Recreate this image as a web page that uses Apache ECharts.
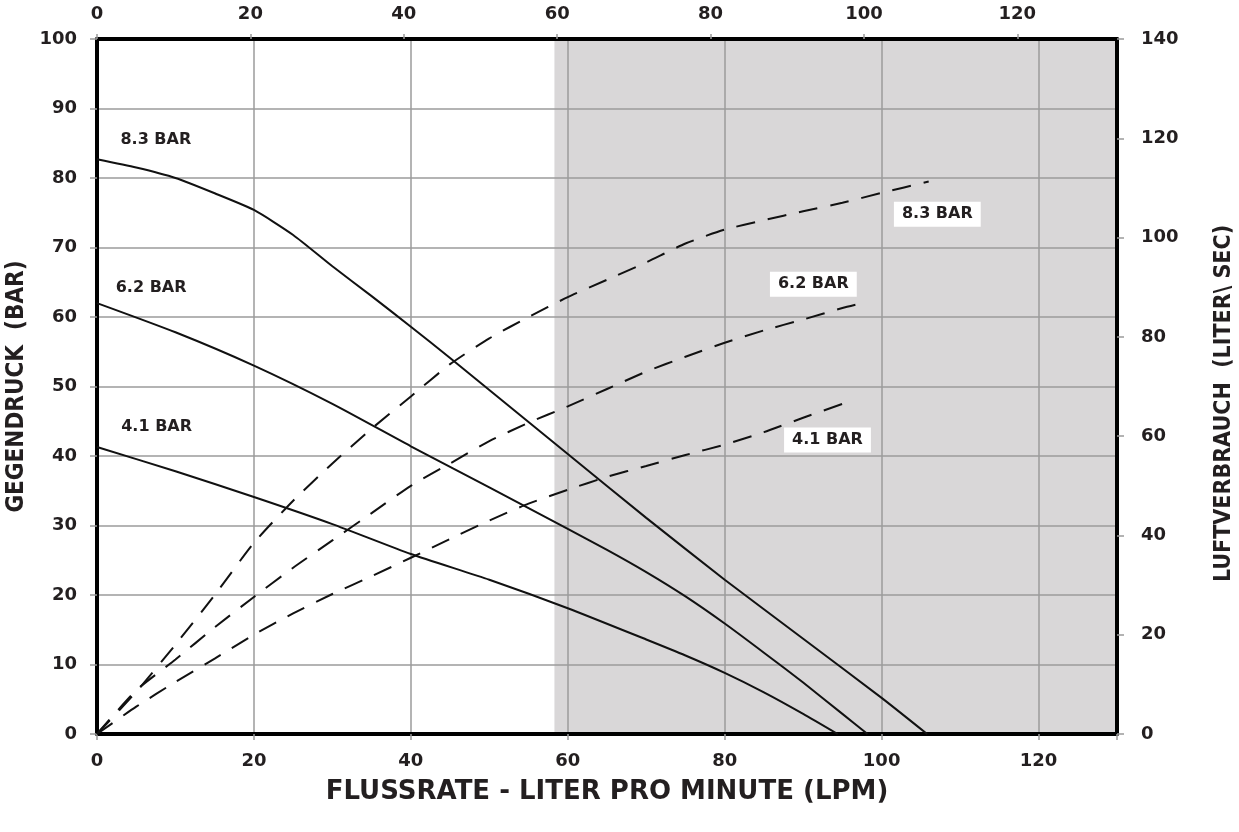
<!DOCTYPE html>
<html>
<head>
<meta charset="UTF-8">
<title>Pumpenkennlinie</title>
<style>
  html, body { margin: 0; padding: 0; background: #fff; }
  #chart { width: 1239px; height: 832px; }
</style>
<script src="https://cdn.jsdelivr.net/npm/echarts@6/dist/echarts.min.js"></script>
</head>
<body>
<div id="chart"></div>
<script>
// Gegendruck (bar) ueber Flussrate (l/min) - durchgezogene Linien
var druck83X = [0, 5, 10, 15, 20, 25, 30, 35, 40, 45, 50, 55, 60, 70, 80, 90, 100, 105.8];
var druck83Y = [82.7, 81.5, 80, 77.8, 75.4, 71.8, 67.3, 63, 58.6, 54.1, 49.5, 44.9, 40.3, 31.1, 22.2, 13.7, 5.2, 0];
var druck62X = [0, 10, 20, 30, 40, 50, 60, 65, 70, 75, 80, 85, 90, 95, 98.2];
var druck62Y = [62, 57.8, 53, 47.5, 41.4, 35.5, 29.5, 26.5, 23.3, 19.8, 15.9, 11.7, 7.4, 2.9, 0];
var druck41X = [0, 10, 20, 30, 40, 50, 60, 70, 75, 80, 85, 90, 94.4];
var druck41Y = [41.3, 37.8, 34.1, 30.2, 25.9, 22.2, 18.1, 13.6, 11.3, 8.8, 6.0, 2.9, 0];

// Luftverbrauch (rechte Achse) - gestrichelte Linien
var luft83X = [0, 5, 10, 15, 20, 25, 30, 35, 40, 45, 50, 55, 60, 65, 70, 75, 80, 85, 90, 95, 100, 106];
var luft83Y = [0, 8.5, 18, 28, 38.5, 47, 54.5, 61.5, 68, 74.5, 79.7, 84, 88, 91.5, 95, 98.8, 101.6, 103.5, 105.3, 107, 109, 111.3];
var luft62X = [0, 5, 10, 15, 20, 25, 30, 35, 40, 45, 50, 55, 60, 65, 70, 75, 80, 85, 90, 95, 98];
var luft62Y = [0, 8.8, 15, 21.5, 27.6, 33.5, 39, 44.5, 50, 54.5, 59, 62.7, 66, 69.5, 73, 76, 78.8, 81.3, 83.5, 85.8, 87];
var luft41X = [0, 5, 10, 15, 20, 25, 30, 35, 40, 45, 50, 55, 60, 65, 70, 75, 80, 85, 90, 95];
var luft41Y = [0, 5.5, 10.5, 15.2, 20, 24.3, 28.2, 31.8, 35.5, 39.3, 43, 46.4, 49.2, 51.8, 54, 56.2, 58.3, 60.8, 63.7, 66.5];

var xTicks = [0, 20, 40, 60, 80, 100, 120];
var grauBereich = [58.3, 130];

function paare(xs, ys) {
  return xs.map(function (x, i) { return [x, ys[i]]; });
}

var textFarbe = '#231f20';
var gitter = '#9b9b9b';
var tickFont = { color: textFarbe, fontFamily: 'DejaVu Sans', fontWeight: 'bold', fontSize: 18 };

function beschriftung(name, coord, box) {
  return {
    name: name,
    coord: coord,
    symbol: 'rect',
    symbolSize: 1,
    itemStyle: { color: 'rgba(0,0,0,0)' },
    label: {
      show: true,
      position: 'inside',
      formatter: name,
      color: textFarbe,
      fontFamily: 'DejaVu Sans',
      fontWeight: 'bold',
      fontSize: 16,
      backgroundColor: box ? '#fff' : 'transparent',
      padding: box ? [5, 8, 4, 8] : 0
    }
  };
}

function solid(name, data, marks) {
  return {
    name: name, type: 'line', xAxisIndex: 0, yAxisIndex: 0, z: 3,
    data: data, smooth: 0.2, symbol: 'none',
    lineStyle: { color: '#111', width: 2 },
    markPoint: { silent: true, z: 6, data: marks }
  };
}

function dashed(name, data) {
  return {
    name: name, type: 'line', xAxisIndex: 0, yAxisIndex: 1, z: 3,
    data: data, smooth: 0.2, symbol: 'none',
    lineStyle: { color: '#111', width: 2, type: [19, 13] }
  };
}

var myChart = echarts.init(document.getElementById('chart'));
var option = {
  animation: false,
  backgroundColor: '#fff',
  grid: { left: 97, right: 122, top: 39, bottom: 98, containLabel: false, outerBoundsMode: 'none' },
  xAxis: [{
    type: 'value', position: 'bottom', min: 0, max: 130, interval: 20, z: 2,
    axisLine: { show: true, onZero: false, lineStyle: { color: '#000', width: 4 } },
    axisTick: { show: true, length: 6, lineStyle: { color: gitter, width: 1.5 } },
    axisLabel: Object.assign({ margin: 18, formatter: function (v) { return xTicks.indexOf(v) >= 0 ? v : ''; } }, tickFont),
    splitLine: { show: true, lineStyle: { color: gitter, width: 1.5 } },
    name: 'FLUSSRATE - LITER PRO MINUTE (LPM)', nameLocation: 'middle', nameGap: 45,
    nameTextStyle: { color: textFarbe, fontFamily: 'DejaVu Sans', fontWeight: 'bold', fontSize: 26 }
  }, {
    type: 'value', position: 'top', min: 0, max: 133, interval: 20, z: 2,
    axisLine: { show: true, onZero: false, lineStyle: { color: '#000', width: 4 } },
    axisTick: { show: true, length: 5, lineStyle: { color: gitter, width: 1.5 } },
    axisLabel: Object.assign({ margin: 16, showMaxLabel: false }, tickFont),
    splitLine: { show: false }
  }],
  yAxis: [{
    type: 'value', position: 'left', min: 0, max: 100, interval: 10, z: 2,
    axisLine: { show: true, onZero: false, lineStyle: { color: '#000', width: 4 } },
    axisTick: { show: true, length: 7, lineStyle: { color: gitter, width: 1.5 } },
    axisLabel: Object.assign({ margin: 20 }, tickFont),
    splitLine: { show: true, lineStyle: { color: gitter, width: 1.5 } },
    name: 'GEGENDRUCK  (BAR)', nameLocation: 'middle', nameGap: 66, nameRotate: 90,
    nameTextStyle: { color: textFarbe, fontFamily: 'DejaVu Sans Condensed', fontWeight: 'bold', fontSize: 24 }
  }, {
    type: 'value', position: 'right', min: 0, max: 140, interval: 20, z: 2,
    axisLine: { show: true, onZero: false, lineStyle: { color: '#000', width: 4 } },
    axisTick: { show: true, length: 7, lineStyle: { color: gitter, width: 1.5 } },
    axisLabel: Object.assign({ margin: 24 }, tickFont),
    splitLine: { show: false },
    name: 'LUFTVERBRAUCH  (LITER\\ SEC)', nameLocation: 'middle', nameGap: 96, nameRotate: 90,
    nameTextStyle: { color: textFarbe, fontFamily: 'DejaVu Sans Condensed', fontWeight: 'bold', fontSize: 23, padding: [0, 34, 0, 0] }
  }],
  series: [
    {
      name: 'bereich', type: 'line', xAxisIndex: 0, yAxisIndex: 0, z: 0,
      data: [], silent: true,
      markArea: {
        silent: true, z: 0,
        itemStyle: { color: '#d9d7d8' },
        data: [[{ xAxis: grauBereich[0], yAxis: 0 }, { xAxis: grauBereich[1], yAxis: 100 }]]
      }
    },
    solid('8.3 BAR', paare(druck83X, druck83Y), [
      beschriftung('8.3 BAR', [7.5, 85.5], false),
      beschriftung('8.3 BAR', [107.1, 74.8], true)
    ]),
    solid('6.2 BAR', paare(druck62X, druck62Y), [
      beschriftung('6.2 BAR', [6.9, 64.2], false),
      beschriftung('6.2 BAR', [91.3, 64.7], true)
    ]),
    solid('4.1 BAR', paare(druck41X, druck41Y), [
      beschriftung('4.1 BAR', [7.6, 44.2], false),
      beschriftung('4.1 BAR', [93.1, 42.3], true)
    ]),
    dashed('8.3 BAR Luft', paare(luft83X, luft83Y)),
    dashed('6.2 BAR Luft', paare(luft62X, luft62Y)),
    dashed('4.1 BAR Luft', paare(luft41X, luft41Y))
  ]
};
myChart.setOption(option);
</script>
</body>
</html>
